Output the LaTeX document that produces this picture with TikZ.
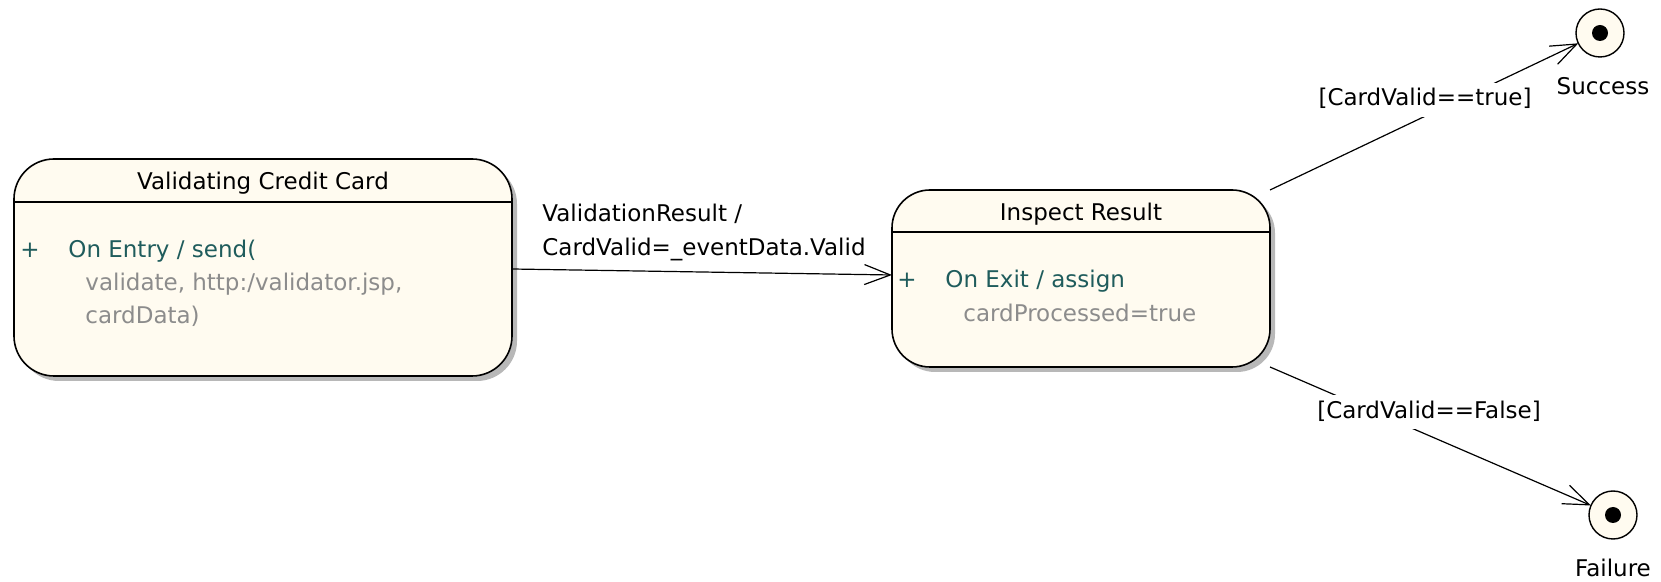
\documentclass[tikz,border=0pt]{standalone}
\usepackage{fontspec}
\setmainfont{DejaVu Sans}
\usetikzlibrary{arrows.meta,shadows,calc}
\definecolor{statefill}{HTML}{FFFBF0}
\definecolor{actcol}{HTML}{1F5C5C}
\definecolor{argcol}{HTML}{8C8C8C}
\definecolor{shadowcol}{HTML}{B8B8B8}
\begin{document}
\begin{tikzpicture}[x=0.5pt,y=-0.5pt,
  txt/.style={font=\fontsize{11.5}{14}\selectfont, inner sep=0pt},
  state/.style={draw=black, line width=0.8pt, fill=statefill, rounded corners=20pt,
    outer sep=0pt, drop shadow={shadow xshift=2.5pt, shadow yshift=-2.5pt, fill=shadowcol, opacity=1}},
  divider/.style={draw=black, line width=0.8pt},
  final/.style={circle, draw=black, line width=0.7pt, fill=statefill, minimum size=24pt, inner sep=0pt, outer sep=0pt},
  conn/.style={draw=black, line width=0.6pt, -{Straight Barb[length=13pt,width=10pt,line width=0.6pt]}},
  guard/.style={txt, fill=white, inner sep=3pt, text height=8.5pt, text depth=2.5pt},
  act/.style={txt, text=actcol, anchor=base west},
  arg/.style={txt, text=argcol, anchor=base west}]
\useasboundingbox (0,0) rectangle (1661,582);

% states
\node[state, minimum width=249pt, minimum height=108.5pt] (vcc) at (263,267.5) {};
\node[state, minimum width=189pt, minimum height=88.5pt, rounded corners=19pt] (ir) at (1081,278.5) {};
\path[divider] ($(vcc.north west)+(0,43)$) -- ($(vcc.north east)+(0,43)$);
\path[divider] ($(ir.north west)+(0,42)$) -- ($(ir.north east)+(0,42)$);

% state titles
\node[txt, anchor=base] (vcct) at ($(vcc.north)+(0,31)$) {Validating Credit Card};
\node[txt, anchor=base] (irt) at ($(ir.north)+(0,31)$) {Inspect Result};

% internal activities
\node[txt, text=actcol, anchor=base] (vccp) at (30,258) {+};
\node[act] (vcca) at (68,258) {On Entry / send(};
\node[arg] (vccb) at (85,291) {validate, http:/validator.jsp,};
\node[arg] (vccc) at (85,324) {cardData)};
\node[txt, text=actcol, anchor=base] (irp) at (907,288) {+};
\node[act] (ira) at (945,288) {On Exit / assign};
\node[arg] (irb) at (963,322) {cardProcessed=true};

% final states
\node[final] (succ) at (1600,33) {};
\fill[black] (succ.center) circle[radius=4pt];
\node[txt, anchor=base] (succl) at (1603,95) {Success};
\node[final] (fail) at (1613,515) {};
\fill[black] (fail.center) circle[radius=4pt];
\node[txt, anchor=base] (faill) at (1613,577) {Failure};

% transitions
\draw[conn] ($(vcc.east)+(0,1.5)$) -- ($(ir.west)+(0,-3.5)$);
\node[txt, anchor=west, align=left, font=\fontsize{11.5}{17}\selectfont] (trl) at (542,232)
  {ValidationResult /\\CardValid=\_eventData.Valid};
\draw[conn] (ir.north east) -- (succ);
\draw[conn] (ir.south east) -- (fail);
\node[guard] (gt) at (1425,100) {[CardValid==true]};
\node[guard] (gf) at (1429,412.5) {[CardValid==False]};
\end{tikzpicture}
\end{document}
